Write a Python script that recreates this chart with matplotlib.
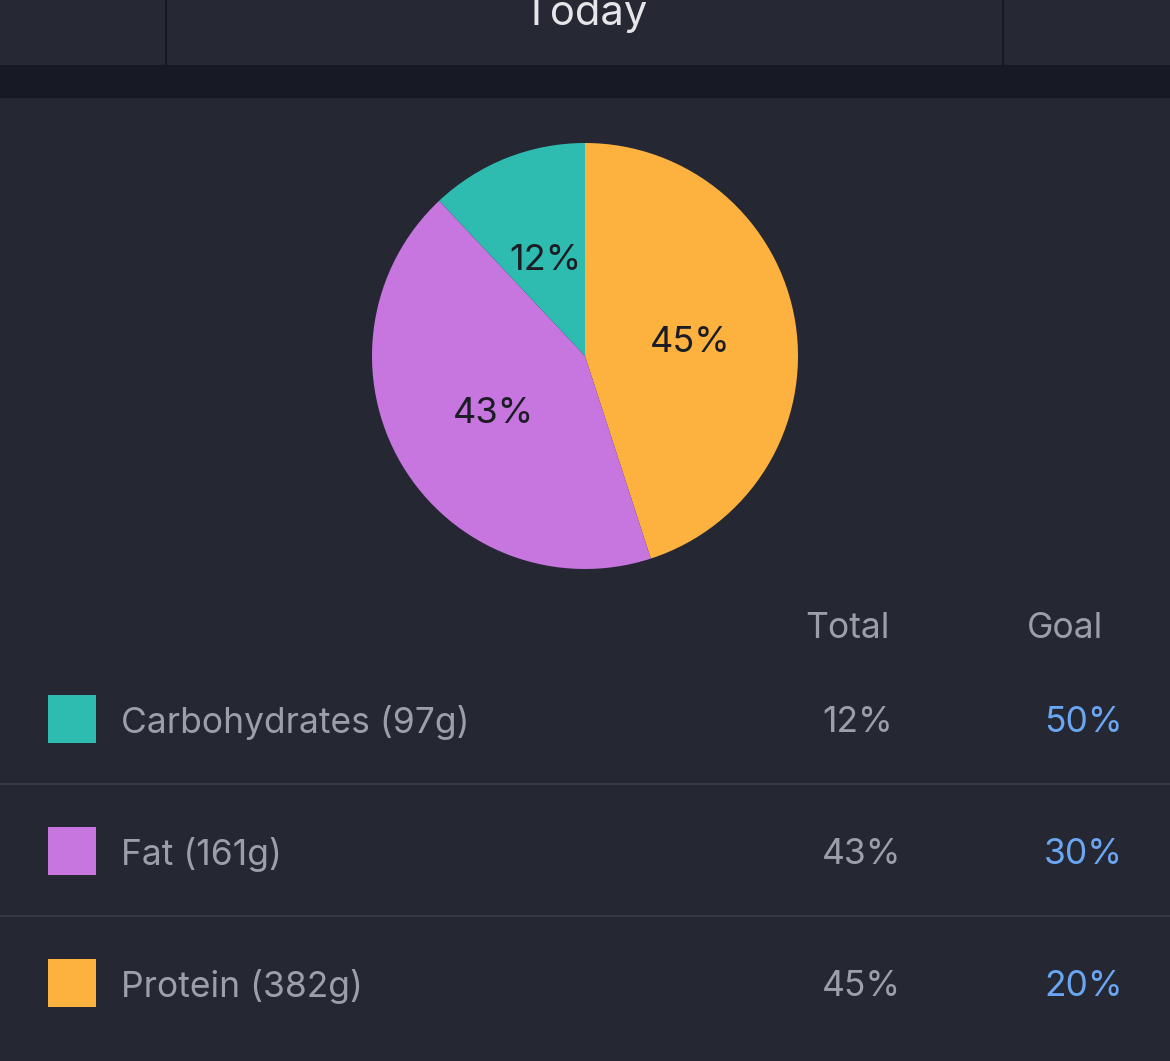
import matplotlib
matplotlib.use("Agg")
import matplotlib.pyplot as plt
from matplotlib.patches import Rectangle

plt.rcParams["font.family"] = ["Inter", "DejaVu Sans"]

# data
macros = ["Carbohydrates", "Fat", "Protein"]
grams = [97, 161, 382]
total_pct = [12, 43, 45]
goal_pct = [50, 30, 20]
colors = ["#2ebbb0", "#c776e0", "#fdb240"]

# pie is drawn protein -> fat -> carbs, clockwise from 12 o'clock
pie_order = [2, 1, 0]

W, H = 1170, 1061
BG = "#252733"
fig = plt.figure(figsize=(W / 100, H / 100), dpi=100)
fig.patch.set_facecolor(BG)

# full-figure axes in pixel coords for the page chrome + table
bg = fig.add_axes([0, 0, 1, 1])
bg.set_xlim(0, W); bg.set_ylim(H, 0); bg.axis("off")
bg.add_patch(Rectangle((0, 0), W, 65, color="#262834", lw=0))
bg.add_patch(Rectangle((0, 65), W, 33, color="#171a25", lw=0))
for x in (166, 1003):
    bg.plot([x, x], [0, 65], color="#161922", lw=1.5)
bg.text(585, 25, "Today", ha="center", va="baseline", fontsize=30, color="#e6e6ea")

# pie
pax = fig.add_axes([(585 - 213) / W, 1 - (356 + 213) / H, 426 / W, 426 / H])
_, _, pct_txt = pax.pie([total_pct[i] for i in pie_order], colors=[colors[i] for i in pie_order],
                        startangle=90, counterclock=False, autopct="%d%%", pctdistance=0.5,
                        wedgeprops=dict(lw=0), textprops=dict(fontsize=26, color="#1b1c24"))
for t in pct_txt:
    t.set_va("center_baseline")
pax.set_xlim(-1, 1); pax.set_ylim(-1, 1); pax.set_aspect("equal")

# table
grey = "#9c9ea8"
blue = "#6aa6f2"
fs = 25.5
bg.text(847, 628, "Total", ha="center", va="center", fontsize=fs, color=grey)
bg.text(1065, 628, "Goal", ha="center", va="center", fontsize=fs, color=grey)
row_y = [719, 851, 983]
for i, y in enumerate(row_y):
    bg.add_patch(Rectangle((48, y - 24), 48, 48, color=colors[i], lw=0))
    bg.text(121, y + 3, f"{macros[i]} ({grams[i]}g)", ha="left", va="center",
            fontsize=fs, color=grey)
    bg.text(822, y + 3, f"{total_pct[i]}%", ha="left", va="center", fontsize=fs, color=grey)
    bg.text(1123, y + 3, f"{goal_pct[i]}%", ha="right", va="center", fontsize=fs, color=blue)
    if i < len(row_y) - 1:
        bg.plot([0, W], [y + 65, y + 65], color="#393b47", lw=1.2)

fig.savefig("out.png", dpi=100, facecolor=BG)
